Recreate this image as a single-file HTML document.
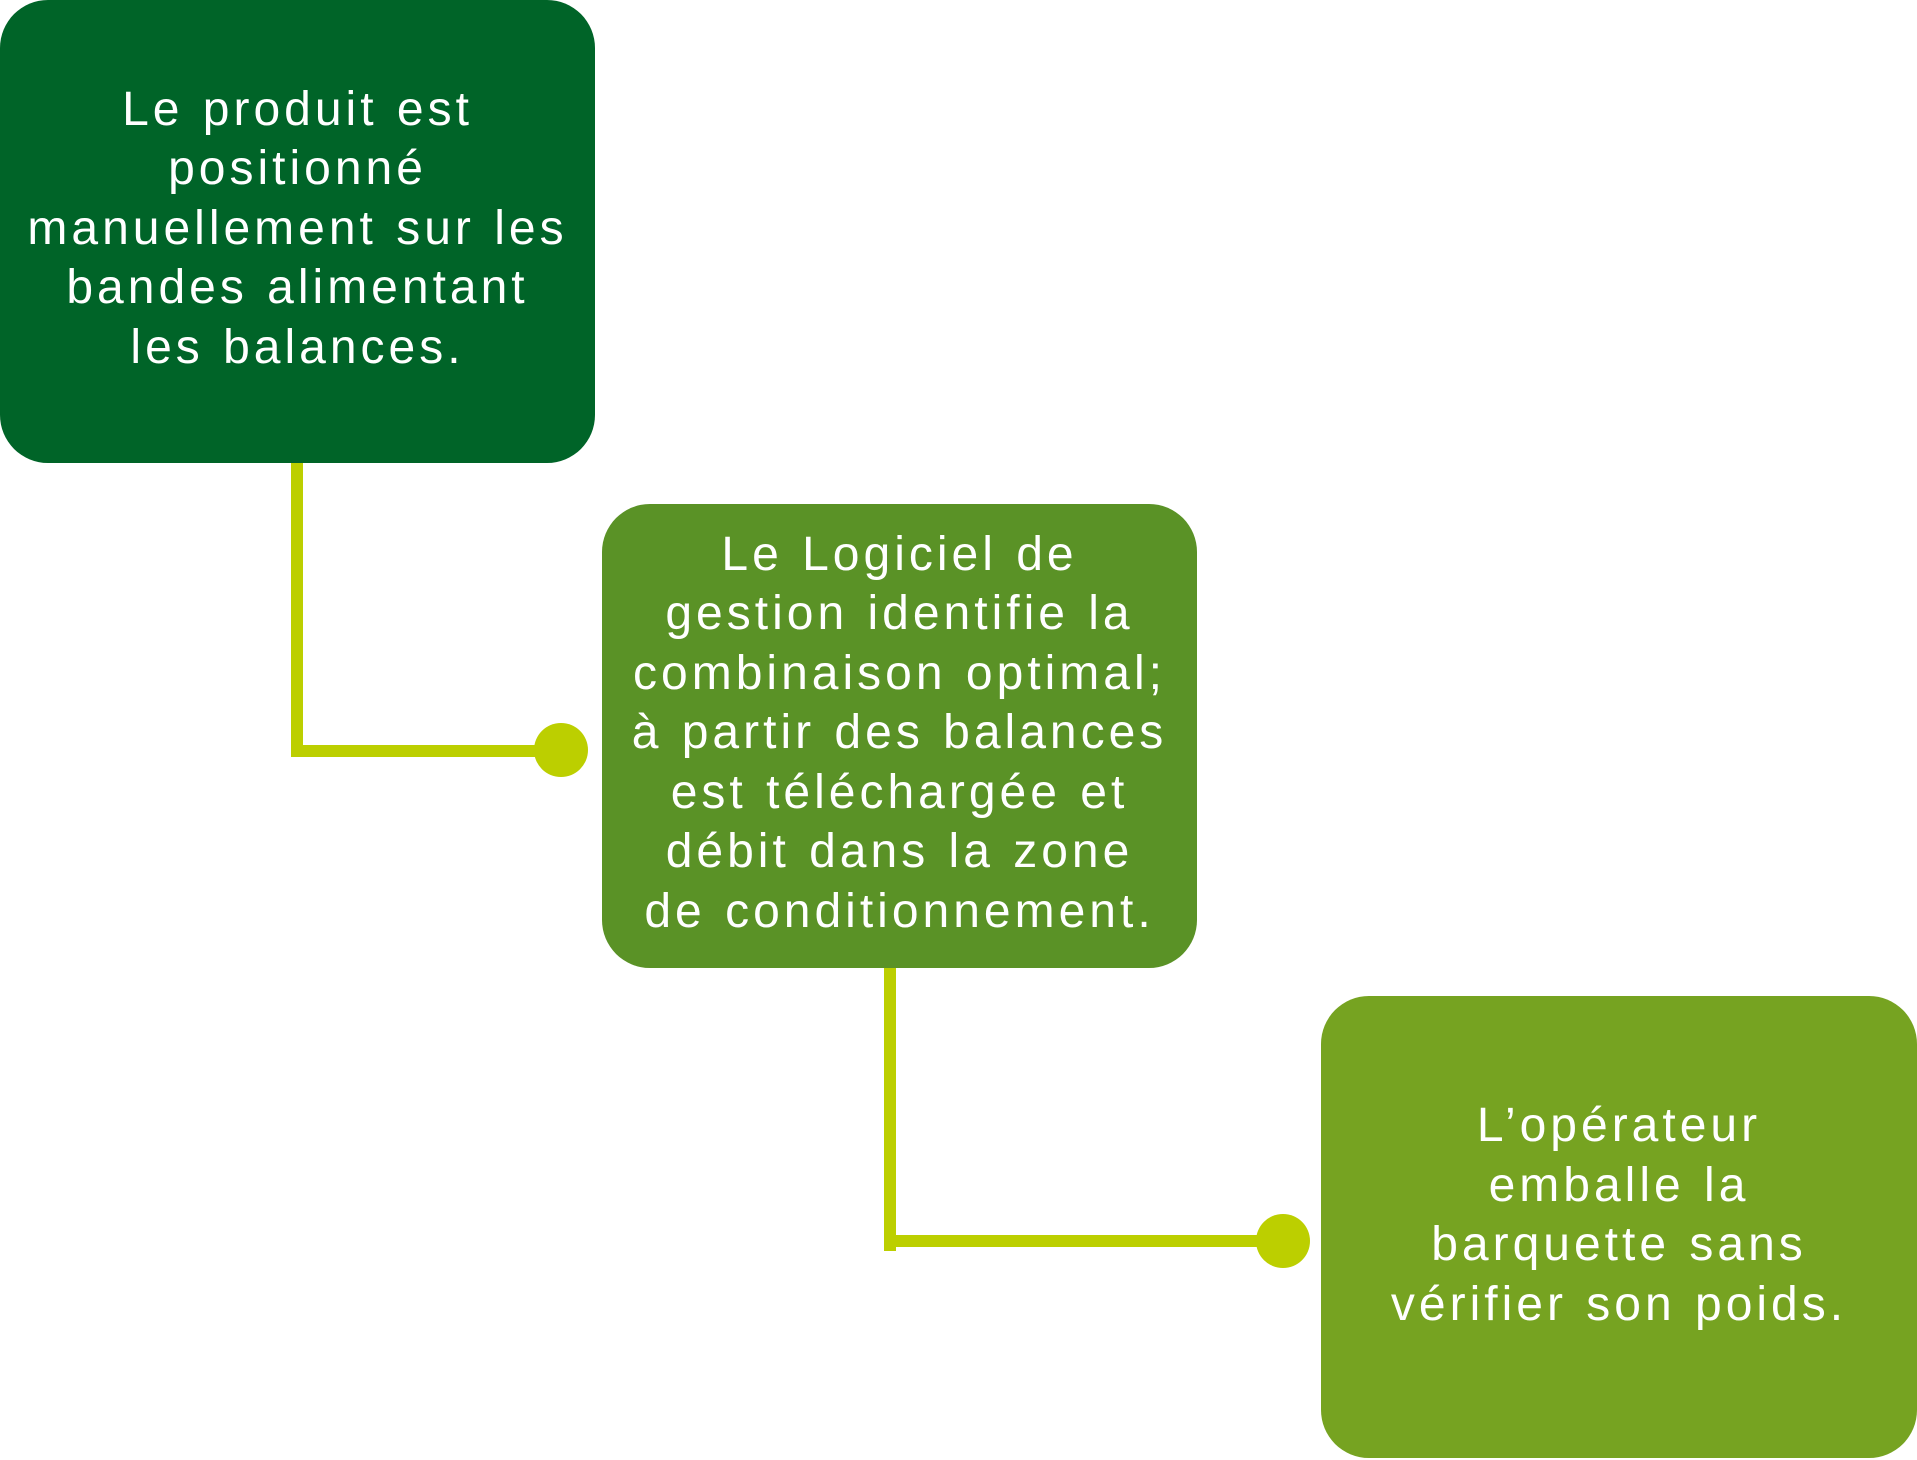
<!DOCTYPE html>
<html><head><meta charset="utf-8"><style>
body{margin:0;width:1917px;height:1460px;background:#fff;position:relative;overflow:hidden;font-family:"Liberation Sans",sans-serif;}
.b{position:absolute;border-radius:48px;color:#fff;display:flex;align-items:center;justify-content:center;text-align:center;font-size:48px;line-height:59.5px;letter-spacing:4px;word-spacing:2px;white-space:nowrap;}
.l{position:absolute;background:#bccf00;}
.c{position:absolute;background:#bccf00;border-radius:50%;width:54px;height:54px;}
</style></head><body>
<div class="b" style="left:0;top:0;width:595px;height:463px;background:#006428;padding-bottom:6px;box-sizing:border-box">Le produit est<br>positionné<br>manuellement sur les<br>bandes alimentant<br>les balances.</div>
<div class="l" style="left:291px;top:463px;width:12px;height:294px"></div>
<div class="l" style="left:291px;top:745px;width:262px;height:12px"></div>
<div class="c" style="left:534px;top:723px"></div>
<div class="b" style="left:602px;top:504px;width:595px;height:464px;background:#5a9226;padding-bottom:6px;box-sizing:border-box">Le Logiciel de<br>gestion identifie la<br>combinaison optimal;<br>à partir des balances<br>est téléchargée et<br>débit dans la zone<br>de conditionnement.</div>
<div class="l" style="left:884px;top:968px;width:12px;height:283px"></div>
<div class="l" style="left:884px;top:1235px;width:385px;height:12px"></div>
<div class="c" style="left:1256px;top:1214px"></div>
<div class="b" style="left:1321px;top:996px;width:596px;height:462px;background:#76a321;padding-bottom:24px;box-sizing:border-box">L’opérateur<br>emballe la<br>barquette sans<br>vérifier son poids.</div>
</body></html>
